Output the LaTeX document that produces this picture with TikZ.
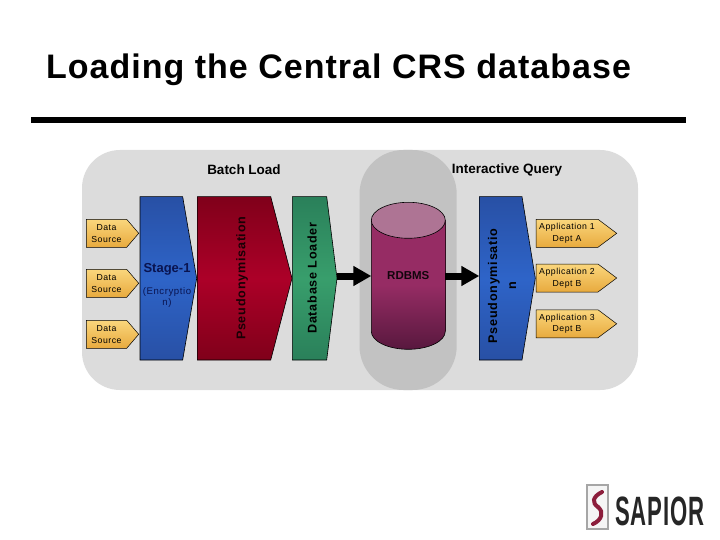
\documentclass[tikz,border=0pt]{standalone}
\usepackage{fontspec}
\setmainfont{Liberation Sans}
\newfontfamily\spacedfont[LetterSpace=6]{Liberation Sans}
\newfontfamily\titlefont[LetterSpace=3]{Liberation Sans}
\newfontfamily\logofont[LetterSpace=4]{Liberation Sans}
\usetikzlibrary{arrows.meta, shapes.geometric, shapes.symbols, positioning}
\definecolor{pnlgray} {RGB}{220,220,220}
\definecolor{colgray} {RGB}{194,194,194}
\definecolor{sblue}   {RGB}{ 46,100,200}
\definecolor{dblue}   {RGB}{ 40, 80,165}
\definecolor{sred}    {RGB}{172,  0, 40}
\definecolor{dred}    {RGB}{128,  0, 26}
\definecolor{sgrn}    {RGB}{ 56,158,108}
\definecolor{dgrn}    {RGB}{ 42,128, 90}
\definecolor{tagtop}  {RGB}{250,214,124}
\definecolor{tagbot}  {RGB}{232,170, 62}
\definecolor{cylmid}  {RGB}{150, 44,100}
\definecolor{cyldrk}  {RGB}{ 88, 24, 62}
\definecolor{cyltop}  {RGB}{174,116,148}
\definecolor{navy}    {RGB}{ 10, 20, 80}
\definecolor{logored} {RGB}{140, 30, 60}
\tikzset{
  % Pointed block
  BK/.style={signal,signal to=east,signal from=nowhere,draw=black,
             line width=0.6pt,inner sep=0pt,outer sep=0pt,anchor=west,
             minimum height=163.4pt},
  % Blue block
  BB/.style={BK,top color=dblue,bottom color=dblue,middle color=sblue},
  % Red block
  RB/.style={BK,top color=dred,bottom color=dred,middle color=sred},
  % Green block
  GB/.style={BK,top color=dgrn,bottom color=dgrn,middle color=sgrn},
  % Yellow tag
  TG/.style={signal,signal to=east,signal from=nowhere,draw=black,
             line width=0.5pt,inner sep=0pt,outer sep=0pt,anchor=west,
             minimum height=28pt,align=center,
             top color=tagtop,bottom color=tagbot,
             font=\spacedfont\fontsize{8.7}{11.5}\selectfont},
  % Heading label
  HD/.style={font=\bfseries\fontsize{13.5}{16}\selectfont},
  % Rotated label
  VL/.style={rotate=90,align=center,
             font=\bfseries\spacedfont\fontsize{12.6}{19}\selectfont},
  % Thick arrow
  Arr/.style={-{Triangle[length=18pt,width=19pt]},line width=7pt,color=black},
}
\begin{document}
\begin{tikzpicture}[x=1pt,y=-1pt]
  \useasboundingbox (0,0) rectangle (720,540);
  \node[font=\titlefont\bfseries\fontsize{34}{38}\selectfont] (title) at (338.5,70)
        {Loading the Central CRS database};
  \fill[black] (31,116.7) rectangle (686,122.7);

  % Panel and centre column
  \fill[pnlgray,rounded corners=38pt] (82,150) rectangle (638,390);
  \fill[colgray,rounded corners=44pt] (359.5,150) rectangle (456.7,390);
  \node[HD] (batch) at (244,169.7) {Batch Load};
  \node[HD] (inter) at (507,169.7) {Interactive Query};

  % Sources
  \node[TG,minimum width=52.4pt,signal pointer angle=98.8] (s1) at (86.3,233.3) {Data\\Source};
  \node[TG,minimum width=52.4pt,signal pointer angle=98.8] (s2) at (86.3,283.3) {Data\\Source};
  \node[TG,minimum width=52.4pt,signal pointer angle=98.8] (s3) at (86.3,334.3) {Data\\Source};

  % Batch blocks
  \node[BB,minimum width=56.7pt,signal pointer angle=160.5] (stage) at (140,278.3) {};
  \node[font=\bfseries\fontsize{13}{15}\selectfont,text=navy] (stagetxt) at (167,269) {Stage-1};
  \node[font=\spacedfont\fontsize{9.6}{11.5}\selectfont,text=navy,align=center] (enctxt) at (167,297.5)
        {(Encryptio\\n)};
  \node[RB,minimum width=94.7pt,signal pointer angle=150.8] (pseudo) at (197.3,278.3) {};
  \node[VL,text=black!80!dred] (pseudotxt) at (242,278.3) {Pseudonymisation};
  \node[GB,minimum width=44.7pt,signal pointer angle=165.6] (loader) at (292.3,278.3) {};
  \node[VL] (loadtxt) at (312,278) {Database Loader};

  % Database
  \draw[draw=black,line width=0.6pt,top color=cylmid,bottom color=cyldrk,middle color=cylmid]
        (371.3,220.3) -- (371.3,331.3)
        .. controls (371.3,341.2) and (387.9,349.3) .. (408.3,349.3)
        .. controls (428.7,349.3) and (445.3,341.2) .. (445.3,331.3)
        -- (445.3,220.3) -- cycle;
  \node[ellipse,draw=black,line width=0.6pt,fill=cyltop,minimum width=74pt,
        minimum height=36pt,inner sep=0pt] (rdbmstop) at (408.3,220.3) {};
  \node[rectangle,minimum width=74pt,minimum height=40pt,inner sep=0pt,outer sep=0pt,
        font=\bfseries\fontsize{11.5}{14}\selectfont,text=black!80!cyldrk] (rdbms) at (408.3,276) {RDBMS};

  % Query block
  \node[BB,minimum width=56pt,signal pointer angle=161.5] (query) at (479.3,278.3) {};
  \node[VL] (querytxt) at (502,286) {Pseudonymisatio\\n};

  % Applications
  \node[TG,minimum width=80.7pt,signal pointer angle=73.6] (a1) at (536,233.3) {Application 1\\Dept A};
  \node[TG,minimum width=80.7pt,signal pointer angle=73.6] (a2) at (536,278) {Application 2\\Dept B};
  \node[TG,minimum width=80.7pt,signal pointer angle=73.6] (a3) at (536,323.8) {Application 3\\Dept B};

  \draw[Arr] (loader.east |- rdbms.west) -- (rdbms.west);
  \draw[Arr] (rdbms.east) -- (query.west |- rdbms.east);

  % Logo
  \node[rectangle,draw=black!35,fill=black!4,line width=1.2pt,minimum width=21pt,
        minimum height=44pt,inner sep=0pt] (logobox) at (597.5,507) {};
  \draw[logored,line width=4pt,line cap=round] (602,492) .. controls (592,497) and (592,503) .. (598,507);
  \draw[logored,line width=4pt,line cap=round] (598,507) .. controls (604,512) and (602,520) .. (593,524);
  \node[font=\logofont\bfseries\fontsize{41}{41}\selectfont,xscale=0.54,text=black!85] (logotxt) at (660,511) {SAPIOR};
\end{tikzpicture}
\end{document}
